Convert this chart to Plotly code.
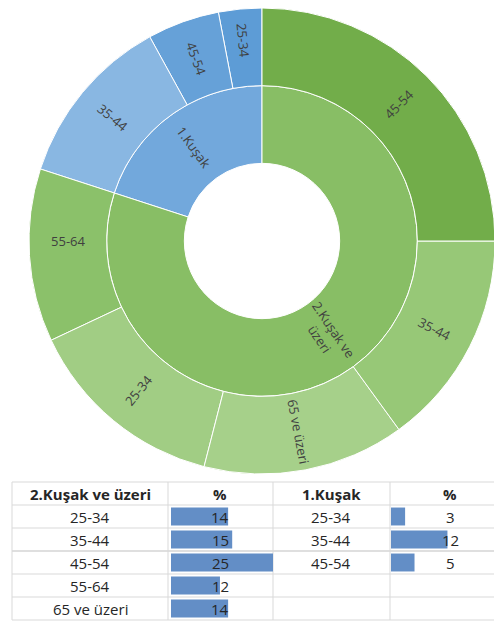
import plotly.graph_objects as go

# the page adds an 8px body margin, so the figure is drawn a bit smaller
OFF = 8
W, H = 502 - OFF, 624 - OFF

# data
gen2_name = "2.Kuşak ve üzeri"
gen1_name = "1.Kuşak"
gen2_groups = ["25-34", "35-44", "45-54", "55-64", "65 ve üzeri"]
gen2_pct = [14, 15, 25, 12, 14]
gen1_groups = ["25-34", "35-44", "45-54"]
gen1_pct = [3, 12, 5]

# counterclockwise order of the outer ring (sunburst draws counterclockwise)
gen1_ring_order = ["25-34", "45-54", "35-44"]
gen2_ring_order = ["55-64", "25-34", "65 ve üzeri", "35-44", "45-54"]

ring_colors = {
    "root": "white",
    gen2_name: "#88be65",
    gen1_name: "#72a8dc",
    "g2/45-54": "#72ad4a",
    "g2/35-44": "#97c877",
    "g2/65 ve üzeri": "#a6d08a",
    "g2/25-34": "#a1cd84",
    "g2/55-64": "#8bc16a",
    "g1/35-44": "#89b7e2",
    "g1/45-54": "#66a1d8",
    "g1/25-34": "#5d9cd6",
}


def px_x(x):
    return (x - OFF) / W


def px_y(y):
    return 1 - (y - OFF) / H


# sunburst, with a blank root to leave the hole in the middle
ids, labels, parents, values = ["root"], [""], [""], [sum(gen1_pct) + sum(gen2_pct)]
ids += [gen1_name, gen2_name]
labels += [gen1_name, gen2_name]
parents += ["root", "root"]
values += [sum(gen1_pct), sum(gen2_pct)]
g2 = dict(zip(gen2_groups, gen2_pct))
g1 = dict(zip(gen1_groups, gen1_pct))
for g in gen1_ring_order:
    ids.append("g1/" + g)
    labels.append(g)
    parents.append(gen1_name)
    values.append(g1[g])
for g in gen2_ring_order:
    ids.append("g2/" + g)
    labels.append(g)
    parents.append(gen2_name)
    values.append(g2[g])

# the big inner segment gets its label as an annotation (placed like Excel does)
slice_text = ["" if i == gen2_name else lab for i, lab in zip(ids, labels)]

cx, cy, r = 262, 241, 233
fig = go.Figure()
fig.add_trace(
    go.Sunburst(
        ids=ids,
        labels=labels,
        parents=parents,
        values=values,
        text=slice_text,
        textinfo="text",
        branchvalues="total",
        sort=False,
        rotation=90,
        insidetextorientation="radial",
        marker={"colors": [ring_colors[i] for i in ids], "line": {"color": "white", "width": 1}},
        leaf={"opacity": 1},
        textfont={"family": "Open Sans", "size": 13, "color": "#404040"},
        hoverinfo="label+value",
        domain={"x": [px_x(cx - r), px_x(cx + r)], "y": [px_y(cy + r), min(1, px_y(cy - r))]},
    )
)

# table geometry (pixels of the reference)
col_edges = [12, 168, 273, 390, 502]
row_edges = [482, 505, 528, 551, 574, 597, 620]
grid = "#d9d9d9"
shapes = []
for i, y in enumerate(row_edges):
    shapes.append(
        dict(type="line", xref="paper", yref="paper", x0=px_x(12), x1=px_x(502),
             y0=px_y(y), y1=px_y(y),
             line={"color": "#bfbfbf" if i == 3 else grid, "width": 1}, layer="below")
    )
for x in col_edges[:-1]:
    shapes.append(
        dict(type="line", xref="paper", yref="paper", x0=px_x(x), x1=px_x(x),
             y0=px_y(row_edges[0]), y1=px_y(row_edges[-1]),
             line={"color": grid, "width": 1}, layer="below")
    )

annotations = [
    dict(text="2.Kuşak ve<br>üzeri", x=px_x(327), y=px_y(334), xref="paper", yref="paper",
         showarrow=False, textangle=56, xanchor="center", yanchor="middle",
         font={"family": "Open Sans", "size": 13, "color": "#404040"})
]

font_txt = {"family": "Open Sans", "size": 15, "color": "#262626"}
font_hdr = {"family": "Open Sans", "size": 15, "color": "#262626", "weight": "bold"}
col_centers = [90, 220, 331, 450]


def cell(text, col, row, font):
    yc = (row_edges[row] + row_edges[row + 1]) / 2
    annotations.append(
        dict(text=text, x=px_x(col_centers[col]), y=px_y(yc), xref="paper", yref="paper",
             showarrow=False, xanchor="center", yanchor="middle", font=font)
    )


for col, t in enumerate([gen2_name, "%", gen1_name, "%"]):
    cell(t, col, 0, font_hdr)
for i, (g, v) in enumerate(zip(gen2_groups, gen2_pct)):
    cell(g, 0, i + 1, font_txt)
    cell(str(v), 1, i + 1, font_txt)
for i, (g, v) in enumerate(zip(gen1_groups, gen1_pct)):
    cell(g, 2, i + 1, font_txt)
    cell(str(v), 3, i + 1, font_txt)

# data bars
bar_color = "#638ec6"
fig.add_trace(
    go.Bar(x=gen2_pct, y=list(range(len(gen2_pct))), orientation="h", width=0.78,
           marker={"color": bar_color, "line": {"width": 0}}, xaxis="x", yaxis="y",
           hoverinfo="x", showlegend=False)
)
fig.add_trace(
    go.Bar(x=gen1_pct, y=list(range(len(gen1_pct))), orientation="h", width=0.78,
           marker={"color": bar_color, "line": {"width": 0}}, xaxis="x2", yaxis="y",
           hoverinfo="x", showlegend=False)
)

axis_off = dict(visible=False, showgrid=False, zeroline=False, fixedrange=True)
fig.update_layout(
    width=W,
    height=H,
    margin={"l": 0, "r": 0, "t": 0, "b": 0},
    paper_bgcolor="white",
    plot_bgcolor="rgba(0,0,0,0)",
    showlegend=False,
    shapes=shapes,
    annotations=annotations,
    xaxis=dict(domain=[px_x(171), px_x(273)], range=[0, 25], **axis_off),
    xaxis2=dict(domain=[px_x(391), px_x(502)], range=[0, 23.6], anchor="y", **axis_off),
    yaxis=dict(domain=[px_y(row_edges[-1]), px_y(row_edges[1])], range=[4.5, -0.5], **axis_off),
)

fig.write_html("out.html")
